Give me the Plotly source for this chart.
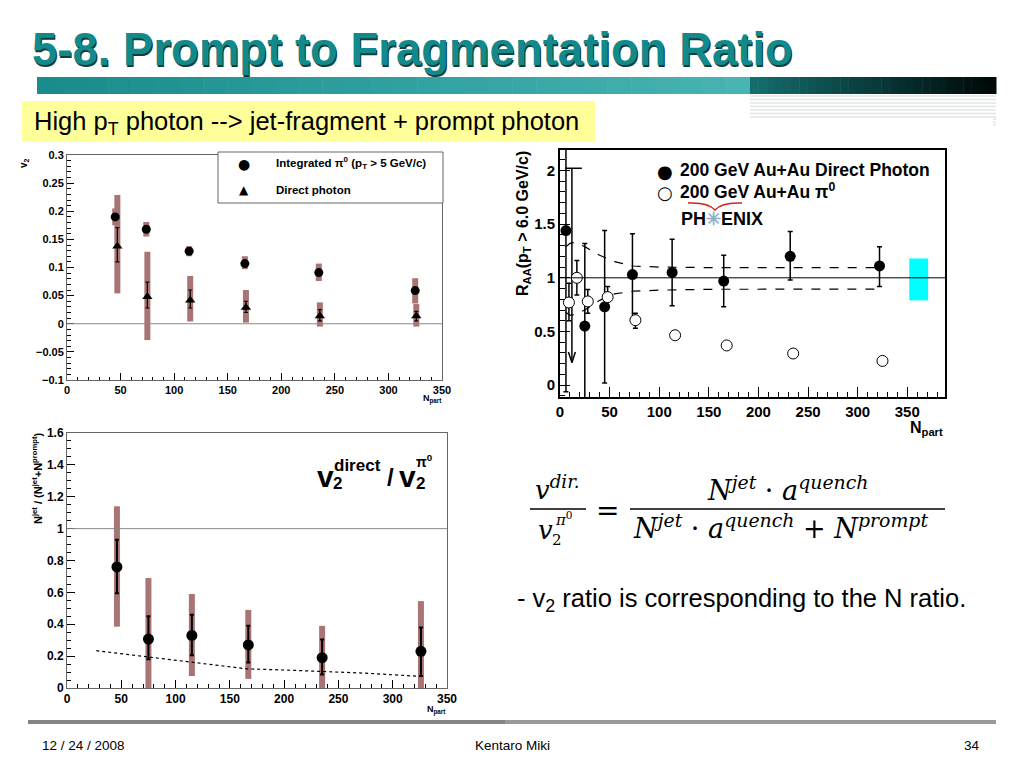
import plotly.graph_objects as go

W, H = 1024, 768


def px(x):
    return x / W


def py(y):
    return 1 - y / H


# ---------------- data: top-left (v2 vs Npart) ----------------
tl_pi0_x = [45, 74, 114, 166, 235, 325]
tl_pi0_y = [0.190, 0.168, 0.129, 0.107, 0.091, 0.059]
tl_pi0_stat = [0.005, 0.005, 0.004, 0.004, 0.004, 0.004]
tl_pi0_sys_hi = [0.205, 0.181, 0.138, 0.120, 0.107, 0.081]
tl_pi0_sys_lo = [0.175, 0.155, 0.120, 0.097, 0.076, 0.036]

tl_dir_x = [47, 75, 115, 167, 236, 326]
tl_dir_y = [0.138, 0.048, 0.042, 0.029, 0.014, 0.014]
tl_dir_stat_hi = [0.171, 0.074, 0.060, 0.040, 0.025, 0.022]
tl_dir_stat_lo = [0.110, 0.028, 0.028, 0.020, 0.005, 0.005]
tl_dir_sys_hi = [0.229, 0.128, 0.085, 0.060, 0.038, 0.035]
tl_dir_sys_lo = [0.054, -0.029, 0.004, 0.002, -0.005, -0.005]

# ---------------- data: top-right (RAA vs Npart) ----------------
tr_dir_x = [6, 25, 45, 73, 113, 165, 232, 322]
tr_dir_y = [1.44, 0.55, 0.73, 1.03, 1.05, 0.97, 1.20, 1.11]
tr_dir_hi = [2.40, 1.32, 1.44, 1.41, 1.36, 1.21, 1.43, 1.29]
tr_dir_lo = [-0.06, -0.30, 0.02, 0.62, 0.74, 0.73, 0.98, 0.92]

tr_pi0_x = [9, 17, 28, 48, 76, 116, 168, 235, 325]
tr_pi0_y = [0.77, 1.00, 0.78, 0.82, 0.605, 0.465, 0.37, 0.295, 0.226]
tr_pi0_hi = [0.95, 1.16, 0.89, 0.92, 0.67, 0.50, 0.39, 0.31, 0.24]
tr_pi0_lo = [0.60, 0.84, 0.67, 0.78, 0.53, 0.43, 0.35, 0.28, 0.21]

tr_ul_x = [12]
tr_ul_top = [2.02]
tr_ul_bottom = [0.21]

tr_band_up_x = [6, 10, 15, 25, 40, 55, 74, 100, 150, 200, 250, 322]
tr_band_up_y = [1.29, 1.32, 1.33, 1.29, 1.21, 1.15, 1.11, 1.10, 1.095, 1.095, 1.095, 1.095]
tr_band_lo_x = [6, 10, 15, 25, 40, 55, 74, 100, 150, 200, 250, 322]
tr_band_lo_y = [0.68, 0.65, 0.66, 0.70, 0.79, 0.85, 0.875, 0.885, 0.893, 0.895, 0.895, 0.895]

tr_norm_x = [361.5]
tr_norm_lo = [0.79]
tr_norm_hi = [1.18]

# ---------------- data: bottom-left (ratio vs Npart) ----------------
bl_x = [46, 75, 115, 167, 235, 326]
bl_y = [0.76, 0.307, 0.33, 0.27, 0.19, 0.23]
bl_stat_hi = [0.93, 0.45, 0.46, 0.39, 0.305, 0.38]
bl_stat_lo = [0.595, 0.18, 0.205, 0.16, 0.085, 0.075]
bl_sys_hi = [1.14, 0.69, 0.59, 0.49, 0.39, 0.545]
bl_sys_lo = [0.385, -0.05, 0.075, 0.057, -0.05, -0.05]

bl_curve_x = [27, 50, 75, 100, 114, 140, 166, 200, 234, 275, 325]
bl_curve_y = [0.234, 0.215, 0.195, 0.172, 0.161, 0.14, 0.12, 0.113, 0.105, 0.093, 0.073]

SYS = "#a87474"
FONT = "Liberation Sans, Arial, sans-serif"
SYM = "DejaVu Sans, sans-serif"
SERIF = "DejaVu Serif, Liberation Serif, serif"


def up(hi, y):
    return [h - v for h, v in zip(hi, y)]


def dn(lo, y):
    return [v - l for l, v in zip(lo, y)]


fig = go.Figure()

# ---- top-left traces
fig.add_trace(go.Scatter(
    x=tl_dir_x, y=tl_dir_y, mode="markers", xaxis="x", yaxis="y",
    marker=dict(size=1, color="rgba(0,0,0,0)"), hoverinfo="skip",
    error_y=dict(type="data", symmetric=False, array=up(tl_dir_sys_hi, tl_dir_y),
                 arrayminus=dn(tl_dir_sys_lo, tl_dir_y), color=SYS, thickness=6, width=0)))
fig.add_trace(go.Scatter(
    x=tl_pi0_x, y=tl_pi0_y, mode="markers", xaxis="x", yaxis="y",
    marker=dict(size=1, color="rgba(0,0,0,0)"), hoverinfo="skip",
    error_y=dict(type="data", symmetric=False, array=up(tl_pi0_sys_hi, tl_pi0_y),
                 arrayminus=dn(tl_pi0_sys_lo, tl_pi0_y), color=SYS, thickness=6, width=0)))
fig.add_trace(go.Scatter(
    x=tl_pi0_x, y=tl_pi0_y, mode="markers", xaxis="x", yaxis="y",
    name="Integrated π0 (pT > 5 GeV/c)",
    marker=dict(size=9, color="black", symbol="circle"),
    error_y=dict(type="data", array=tl_pi0_stat, color="black", thickness=1.2, width=2)))
fig.add_trace(go.Scatter(
    x=tl_dir_x, y=tl_dir_y, mode="markers", xaxis="x", yaxis="y",
    name="Direct photon",
    marker=dict(size=9, color="black", symbol="triangle-up"),
    error_y=dict(type="data", symmetric=False, array=up(tl_dir_stat_hi, tl_dir_y),
                 arrayminus=dn(tl_dir_stat_lo, tl_dir_y), color="black", thickness=1.2, width=2)))

# ---- top-right traces
fig.add_trace(go.Bar(
    x=tr_norm_x, y=[h - l for h, l in zip(tr_norm_hi, tr_norm_lo)], base=tr_norm_lo,
    width=19, marker=dict(color="#00ffff", line=dict(width=0)), xaxis="x2", yaxis="y2",
    hoverinfo="skip"))
fig.add_trace(go.Scatter(
    x=tr_band_up_x, y=tr_band_up_y, mode="lines", xaxis="x2", yaxis="y2",
    line=dict(color="black", width=1.2, dash="dash"), hoverinfo="skip"))
fig.add_trace(go.Scatter(
    x=tr_band_lo_x, y=tr_band_lo_y, mode="lines", xaxis="x2", yaxis="y2",
    line=dict(color="black", width=1.2, dash="dash"), hoverinfo="skip"))

# upper-limit arrow, built from the upper-limit arrays
ul_line_x, ul_line_y = [], []
for ux, ut, ub in zip(tr_ul_x, tr_ul_top, tr_ul_bottom):
    ul_line_x += [ux - 7, ux + 10, None, ux, ux, None, ux - 3.5, ux, ux + 3.5, None]
    ul_line_y += [ut, ut, None, ut, ub, None, ub + 0.1, ub, ub + 0.1, None]
fig.add_trace(go.Scatter(
    x=ul_line_x, y=ul_line_y, mode="lines", xaxis="x2", yaxis="y2",
    line=dict(color="black", width=1.5), hoverinfo="skip"))

fig.add_trace(go.Scatter(
    x=tr_dir_x, y=tr_dir_y, mode="markers", xaxis="x2", yaxis="y2",
    name="200 GeV Au+Au Direct Photon",
    marker=dict(size=11, color="black", symbol="circle"),
    error_y=dict(type="data", symmetric=False, array=up(tr_dir_hi, tr_dir_y),
                 arrayminus=dn(tr_dir_lo, tr_dir_y), color="black", thickness=1.5, width=2.5)))
fig.add_trace(go.Scatter(
    x=tr_pi0_x, y=tr_pi0_y, mode="markers", xaxis="x2", yaxis="y2",
    name="200 GeV Au+Au π0",
    marker=dict(size=11, color="white", symbol="circle", line=dict(color="black", width=1)),
    error_y=dict(type="data", symmetric=False, array=up(tr_pi0_hi, tr_pi0_y),
                 arrayminus=dn(tr_pi0_lo, tr_pi0_y), color="black", thickness=1.5, width=2.5)))

# ---- bottom-left traces
fig.add_trace(go.Scatter(
    x=bl_x, y=bl_y, mode="markers", xaxis="x3", yaxis="y3",
    marker=dict(size=1, color="rgba(0,0,0,0)"), hoverinfo="skip",
    error_y=dict(type="data", symmetric=False, array=up(bl_sys_hi, bl_y),
                 arrayminus=dn(bl_sys_lo, bl_y), color=SYS, thickness=6, width=0)))
fig.add_trace(go.Scatter(
    x=bl_curve_x, y=bl_curve_y, mode="lines", xaxis="x3", yaxis="y3",
    line=dict(color="black", width=1.2, dash="dot"), hoverinfo="skip"))
fig.add_trace(go.Scatter(
    x=bl_x, y=bl_y, mode="markers", xaxis="x3", yaxis="y3",
    marker=dict(size=11, color="black", symbol="circle"),
    error_y=dict(type="data", symmetric=False, array=up(bl_stat_hi, bl_y),
                 arrayminus=dn(bl_stat_lo, bl_y), color="black", thickness=2, width=2)))


def axis(domain, rng, dtick, minor, anchor, fs, lc, lw, tl):
    return dict(domain=domain, range=rng, dtick=dtick, tick0=0, ticks="inside",
                ticklen=tl, tickwidth=1, tickcolor="black", showline=True, mirror=True,
                linecolor=lc, linewidth=lw, showgrid=False, zeroline=False,
                anchor=anchor, fixedrange=True,
                tickfont=dict(family=FONT, size=fs, color="black", weight="bold"),
                minor=dict(ticks="inside", dtick=minor, ticklen=tl / 2, tickcolor="black",
                           showgrid=False))


layout = dict(
    width=W, height=H, template="none", showlegend=False,
    margin=dict(l=0, r=0, t=0, b=0),
    paper_bgcolor="white", plot_bgcolor="rgba(0,0,0,0)",
    font=dict(family=FONT, color="black"),
    barmode="overlay",
    xaxis=axis([px(67), px(442)], [0, 350], 50, 10, "y", 11, "#666", 1, 7),
    yaxis=axis([py(380), py(155)], [-0.1, 0.3], 0.05, 0.01, "x", 11, "#666", 1, 7),
    xaxis2=axis([px(560), px(945)], [0, 388], 50, 10, "y2", 15, "black", 2, 10),
    yaxis2=axis([py(397), py(150)], [-0.11, 2.19], 0.5, 0.1, "x2", 15, "black", 2, 10),
    xaxis3=axis([px(67), px(447)], [0, 350], 50, 10, "y3", 12, "#666", 1, 8),
    yaxis3=axis([py(688), py(433)], [0, 1.6], 0.2, 0.05, "x3", 12, "#666", 1, 8),
)
fig.update_layout(**layout)

shapes = []
# reference lines
shapes.append(dict(type="line", xref="x domain", yref="y", x0=0, x1=1, y0=0, y1=0,
                   line=dict(color="#888", width=1)))
shapes.append(dict(type="line", xref="x2 domain", yref="y2", x0=0, x1=1, y0=1, y1=1,
                   line=dict(color="black", width=1)))
shapes.append(dict(type="line", xref="x3 domain", yref="y3", x0=0, x1=1, y0=1, y1=1,
                   line=dict(color="#888", width=1)))

# top-left legend box
shapes.append(dict(type="rect", xref="paper", yref="paper", x0=px(218), x1=px(443),
                   y0=py(203), y1=py(152), fillcolor="white", line=dict(color="#666", width=1)))

# title bar: light teal gradient then dark gradient
n = 30
for i in range(n):
    t = i / (n - 1)
    r = int(26 + (72 - 26) * t)
    g = int(140 + (180 - 140) * t)
    b = int(140 + (180 - 140) * t)
    x0 = 37 + (750 - 37) * i / n
    x1 = 37 + (750 - 37) * (i + 1) / n + 0.5
    shapes.append(dict(type="rect", xref="paper", yref="paper", x0=px(x0), x1=px(x1),
                       y0=py(94), y1=py(77), fillcolor=f"rgb({r},{g},{b})", line=dict(width=0),
                       layer="below"))
for i in range(n):
    t = i / (n - 1)
    r = int(20 * (1 - t))
    g = int(110 * (1 - t) + 8 * t)
    b = int(110 * (1 - t) + 8 * t)
    x0 = 750 + (996 - 750) * i / n
    x1 = 750 + (996 - 750) * (i + 1) / n + 0.5
    shapes.append(dict(type="rect", xref="paper", yref="paper", x0=px(x0), x1=px(x1),
                       y0=py(94), y1=py(77), fillcolor=f"rgb({r},{g},{b})", line=dict(width=0),
                       layer="below"))
for yy in [96, 99.5, 103, 106.5, 110, 113.5, 117]:
    shapes.append(dict(type="line", xref="paper", yref="paper", x0=px(750), x1=px(996),
                       y0=py(yy), y1=py(yy), line=dict(color="#dfe6e6", width=1.5), layer="below"))
for yy in [119, 122, 125]:
    shapes.append(dict(type="line", xref="paper", yref="paper", x0=px(993), x1=px(996),
                       y0=py(yy), y1=py(yy), line=dict(color="#dfe6e6", width=1.5), layer="below"))

# yellow box
shapes.append(dict(type="rect", xref="paper", yref="paper", x0=px(22), x1=px(595),
                   y0=py(142), y1=py(101), fillcolor="#ffff99", line=dict(width=0), layer="below"))

# footer line
shapes.append(dict(type="line", xref="paper", yref="paper", x0=px(28), x1=px(505),
                   y0=py(722), y1=py(722), line=dict(color="#858585", width=4)))
shapes.append(dict(type="line", xref="paper", yref="paper", x0=px(505), x1=px(996),
                   y0=py(722), y1=py(722), line=dict(color="#9a9a9a", width=4)))

# formula fraction lines
shapes.append(dict(type="line", xref="paper", yref="paper", x0=px(530), x1=px(586),
                   y0=py(509), y1=py(509), line=dict(color="black", width=1.3)))
shapes.append(dict(type="line", xref="paper", yref="paper", x0=px(630), x1=px(945),
                   y0=py(509), y1=py(509), line=dict(color="black", width=1.3)))

# PHENIX red arc
shapes.append(dict(type="path", xref="paper", yref="paper",
                   path=(f"M {px(688)} {py(203)} Q {px(708)} {py(202)} {px(715)} {py(210)} "
                         f"Q {px(722)} {py(202)} {px(742)} {py(203)}"),
                   line=dict(color="#d42020", width=1.5)))

fig.update_layout(shapes=shapes)

ann = []


def A(x, y, text, size, **kw):
    d = dict(xref="paper", yref="paper", x=px(x), y=py(y), text=text, showarrow=False,
             font=dict(family=kw.pop("family", FONT), size=size, color=kw.pop("color", "black"),
                       weight=kw.pop("weight", "normal")),
             xanchor=kw.pop("xanchor", "center"), yanchor=kw.pop("yanchor", "middle"))
    d.update(kw)
    ann.append(d)


# title with shadow
TITLE = "5-8. Prompt to Fragmentation Ratio"
A(31.3, 51.3, TITLE, 45.5, xanchor="left", color="#163c3c", weight="bold")
A(30, 50, TITLE, 45.5, xanchor="left", color="#12898a", weight="bold")
A(32, 123, "High p<sub>T</sub> photon --> jet-fragment + prompt photon", 25.5, xanchor="left")

# top-left legend
A(244, 164, "●", 14, family=SYM)
A(274, 163, "Integrated π<sup>0</sup> (p<sub>T</sub> > 5 GeV/c)", 11.5, xanchor="left",
  weight="bold")
A(244, 190, "▲", 12, family=SYM)
A(274, 190, "Direct photon", 11.5, xanchor="left", weight="bold")

# top-left axis titles
A(24, 163, "v<sub>2</sub>", 10, weight="bold", textangle=-90)
A(432, 399, "N<sub>part</sub>", 9, weight="bold")

# top-right legend
A(665, 171, "●", 18, family=SYM)
A(678, 170, "200 GeV Au+Au Direct Photon", 17.5, xanchor="left", weight="bold")
A(665, 192, "○", 18, family=SYM)
A(678, 191, "200 GeV Au+Au π<sup>0</sup>", 17.5, xanchor="left", weight="bold")
A(722, 219, "PH<span style='color:#8fb0c8'>✳</span>ENIX", 18, weight="bold")

# top-right axis titles
A(523, 224, "R<sub>AA</sub>(p<sub>T</sub> > 6.0 GeV/c)", 16, weight="bold", textangle=-90)
A(926, 428, "N<sub>part</sub>", 16, weight="bold")

# bottom-left axis titles
A(37, 478, "N<sup>jet</sup> / (N<sup>jet</sup>+N<sup>prompt</sup>)", 11, weight="bold",
  textangle=-90)
A(436, 710, "N<sub>part</sub>", 9, weight="bold")

# v2 ratio label
A(325, 476, "v", 30, weight="bold")
A(357, 465, "direct", 17, weight="bold")
A(337, 483, "2", 17, weight="bold")
A(390, 477, "/", 24, weight="bold")
A(407, 476, "v", 30, weight="bold")
A(424, 461, "π<sup>0</sup>", 14, weight="bold")
A(420, 483, "2", 17, weight="bold")

# formula
A(557, 488, "<i>v</i><sup><i>dir.</i></sup>", 26, family=SERIF)
A(545, 530, "<i>v</i>", 26, family=SERIF)
A(557, 540, "2", 15, family=SERIF)
A(564, 519, "<i>π</i><sup>0</sup>", 15, family=SERIF)
A(607, 510, "=", 28, family=SERIF)
A(787, 488, "<i>N</i><sup><i>jet</i></sup> · <i>a</i><sup><i>quench</i></sup>", 27,
  family=SERIF)
A(631, 526, "<i>N</i><sup><i>jet</i></sup> · <i>a</i><sup><i>quench</i></sup> + "
            "<i>N</i><sup><i>prompt</i></sup>", 27, family=SERIF, xanchor="left")

A(515, 600, "- v<sub>2</sub> ratio is corresponding to the N ratio.", 25.5, xanchor="left")

# footer
A(40, 745, "12 / 24 / 2008", 13.5, xanchor="left")
A(512, 745, "Kentaro Miki", 13.5)
A(982, 745, "34", 13.5, xanchor="right")

fig.update_layout(annotations=ann)

fig.write_html("out.html", config={"displayModeBar": False, "staticPlot": True},
               post_script="document.body.style.margin='0px';"
                           "document.body.style.overflow='hidden';")
